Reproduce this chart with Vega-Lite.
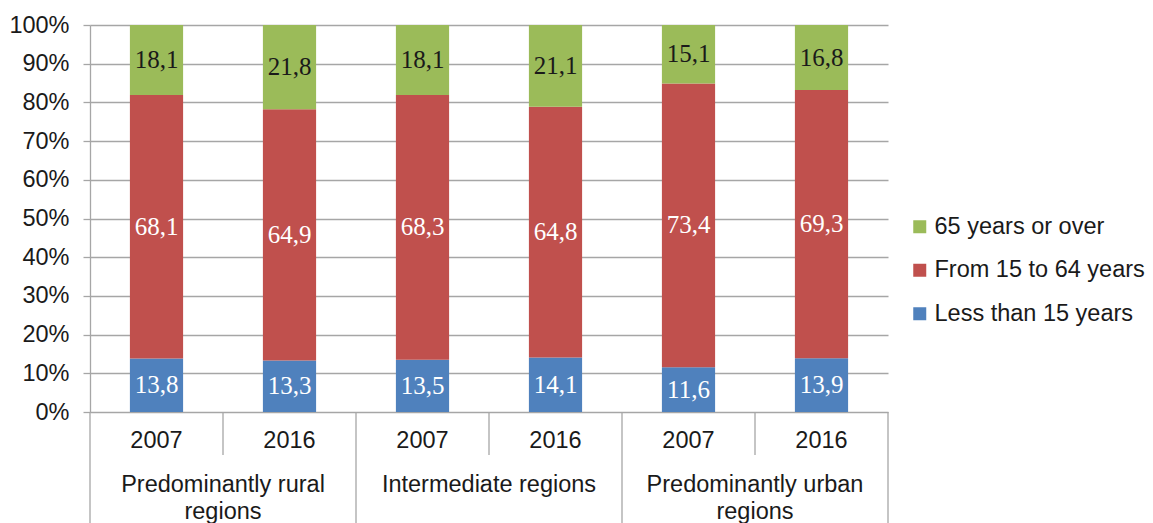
{
  "$schema": "https://vega.github.io/schema/vega-lite/v6.json",
  "padding": {"left": 8, "top": 13, "right": 5, "bottom": 0},
  "config": {
    "view": {"stroke": null},
    "font": "Liberation Sans",
    "locale": {"number": {"decimal": ",", "thousands": ".", "grouping": [3], "currency": ["", " €"]}},
    "axisY": {"values": [0, 0.1, 0.2, 0.3, 0.4, 0.5, 0.6, 0.7, 0.8, 0.9, 1], "format": ".0%", "title": null, "labelOverlap": false,
      "grid": true, "gridColor": "#A6A6A6", "gridWidth": 1.3, "domainColor": "#A6A6A6", "domainWidth": 1.3,
      "tickColor": "#A6A6A6", "tickWidth": 1.3, "tickSize": 7, "labelPadding": 14, "labelFontSize": 23.5,
      "labelColor": "#1a1a1a", "labelFont": "Liberation Sans"}
  },
  "datasets": {
    "pop": [
      {"region": "Predominantly rural regions", "year": "2007", "group": "Less than 15 years", "value": 13.8},
      {"region": "Predominantly rural regions", "year": "2007", "group": "From 15 to 64 years", "value": 68.1},
      {"region": "Predominantly rural regions", "year": "2007", "group": "65 years or over", "value": 18.1},
      {"region": "Predominantly rural regions", "year": "2016", "group": "Less than 15 years", "value": 13.3},
      {"region": "Predominantly rural regions", "year": "2016", "group": "From 15 to 64 years", "value": 64.9},
      {"region": "Predominantly rural regions", "year": "2016", "group": "65 years or over", "value": 21.8},
      {"region": "Intermediate regions", "year": "2007", "group": "Less than 15 years", "value": 13.5},
      {"region": "Intermediate regions", "year": "2007", "group": "From 15 to 64 years", "value": 68.3},
      {"region": "Intermediate regions", "year": "2007", "group": "65 years or over", "value": 18.1},
      {"region": "Intermediate regions", "year": "2016", "group": "Less than 15 years", "value": 14.1},
      {"region": "Intermediate regions", "year": "2016", "group": "From 15 to 64 years", "value": 64.8},
      {"region": "Intermediate regions", "year": "2016", "group": "65 years or over", "value": 21.1},
      {"region": "Predominantly urban regions", "year": "2007", "group": "Less than 15 years", "value": 11.6},
      {"region": "Predominantly urban regions", "year": "2007", "group": "From 15 to 64 years", "value": 73.4},
      {"region": "Predominantly urban regions", "year": "2007", "group": "65 years or over", "value": 15.1},
      {"region": "Predominantly urban regions", "year": "2016", "group": "Less than 15 years", "value": 13.9},
      {"region": "Predominantly urban regions", "year": "2016", "group": "From 15 to 64 years", "value": 69.3},
      {"region": "Predominantly urban regions", "year": "2016", "group": "65 years or over", "value": 16.8}
    ],
    "regions": [
      {"region": "Predominantly rural regions", "label": "Predominantly rural\nregions"},
      {"region": "Intermediate regions", "label": "Intermediate regions"},
      {"region": "Predominantly urban regions", "label": "Predominantly urban\nregions"}
    ]
  },
  "spacing": 0,
  "bounds": "flush",
  "vconcat": [
    {
      "width": 798,
      "height": 387,
      "data": {"name": "pop"},
      "encoding": {
        "x": {"field": "region", "type": "nominal", "sort": ["Predominantly rural regions", "Intermediate regions", "Predominantly urban regions"], "scale": {"paddingInner": 0, "paddingOuter": 0}, "axis": null},
        "xOffset": {"field": "year", "type": "nominal", "scale": {"paddingInner": 0.6, "paddingOuter": 0.3}}
      },
      "layer": [
        {
          "mark": {"type": "bar"},
          "encoding": {
            "y": {"field": "value", "type": "quantitative", "stack": "normalize",
              "axis": {"values": [0, 0.1, 0.2, 0.3, 0.4, 0.5, 0.6, 0.7, 0.8, 0.9, 1], "format": ".0%", "labelOverlap": false, "title": null}},
            "color": {"field": "group", "type": "nominal",
              "scale": {"domain": ["65 years or over", "From 15 to 64 years", "Less than 15 years"], "range": ["#9BBB59", "#C0504D", "#4F81BD"]},
              "legend": {"orient": "none", "legendX": 818, "legendY": 190, "title": null, "symbolType": "square", "symbolSize": 169, "labelLimit": 400,
                "symbolStrokeWidth": 0, "symbolOpacity": 1, "labelFontSize": 23.5, "labelColor": "#1a1a1a", "labelOffset": 3, "rowPadding": 18.5, "labelFont": "Liberation Sans"}},
            "order": {"field": "group", "sort": "descending"}
          }
        },
        {
          "mark": {"type": "text", "font": "Liberation Serif", "fontSize": 25, "baseline": "middle"},
          "encoding": {
            "y": {"field": "value", "type": "quantitative", "stack": "normalize", "bandPosition": 0.5,
              "axis": {"values": [0, 0.1, 0.2, 0.3, 0.4, 0.5, 0.6, 0.7, 0.8, 0.9, 1], "format": ".0%", "labelOverlap": false, "title": null}},
            "detail": {"field": "group"},
            "order": {"field": "group", "sort": "descending"},
            "text": {"field": "value", "type": "quantitative", "format": ".1f"},
            "color": {"condition": {"test": "datum.group === '65 years or over'", "value": "#1a1a1a"}, "value": "#ffffff"}
          }
        }
      ]
    },
    {
      "width": 798,
      "height": 43,
      "encoding": {
        "x": {"field": "region", "type": "nominal", "sort": ["Predominantly rural regions", "Intermediate regions", "Predominantly urban regions"], "scale": {"paddingInner": 0, "paddingOuter": 0}, "axis": null}
      },
      "layer": [
        {
          "data": {"name": "pop"},
          "transform": [{"filter": "datum.group === 'Less than 15 years'"}],
          "mark": {"type": "text", "fontSize": 23.5, "dy": 7, "color": "#1a1a1a", "baseline": "middle"},
          "encoding": {
            "xOffset": {"field": "year", "type": "nominal", "scale": {"paddingInner": 0.6, "paddingOuter": 0.3}},
            "text": {"field": "year"}
          }
        },
        {
          "data": {"name": "regions"},
          "mark": {"type": "rule", "color": "#A6A6A6", "strokeWidth": 1.3},
          "encoding": {"x": {"field": "region", "type": "nominal", "sort": ["Predominantly rural regions", "Intermediate regions", "Predominantly urban regions"], "bandPosition": 0.5}}
        },
        {
          "data": {"name": "regions"},
          "mark": {"type": "rule", "color": "#A6A6A6", "strokeWidth": 1.3},
          "encoding": {"x": {"field": "region", "type": "nominal", "sort": ["Predominantly rural regions", "Intermediate regions", "Predominantly urban regions"], "bandPosition": 0}}
        },
        {
          "data": {"name": "regions"},
          "transform": [{"filter": "datum.region === 'Predominantly urban regions'"}],
          "mark": {"type": "rule", "color": "#A6A6A6", "strokeWidth": 1.3},
          "encoding": {"x": {"field": "region", "type": "nominal", "sort": ["Predominantly rural regions", "Intermediate regions", "Predominantly urban regions"], "bandPosition": 1}}
        }
      ]
    },
    {
      "width": 798,
      "height": 68,
      "data": {"name": "regions"},
      "encoding": {
        "x": {"field": "region", "type": "nominal", "sort": ["Predominantly rural regions", "Intermediate regions", "Predominantly urban regions"], "scale": {"paddingInner": 0, "paddingOuter": 0}, "axis": null}
      },
      "layer": [
        {
          "mark": {"type": "text", "fontSize": 23.5, "dy": 3, "color": "#1a1a1a", "baseline": "alphabetic", "lineBreak": "\n", "lineHeight": 27},
          "encoding": {"text": {"field": "label"}}
        },
        {
          "mark": {"type": "rule", "color": "#A6A6A6", "strokeWidth": 1.3},
          "encoding": {"x": {"field": "region", "type": "nominal", "sort": ["Predominantly rural regions", "Intermediate regions", "Predominantly urban regions"], "bandPosition": 0}}
        },
        {
          "transform": [{"filter": "datum.region === 'Predominantly urban regions'"}],
          "mark": {"type": "rule", "color": "#A6A6A6", "strokeWidth": 1.3},
          "encoding": {"x": {"field": "region", "type": "nominal", "sort": ["Predominantly rural regions", "Intermediate regions", "Predominantly urban regions"], "bandPosition": 1}}
        }
      ]
    }
  ]
}
